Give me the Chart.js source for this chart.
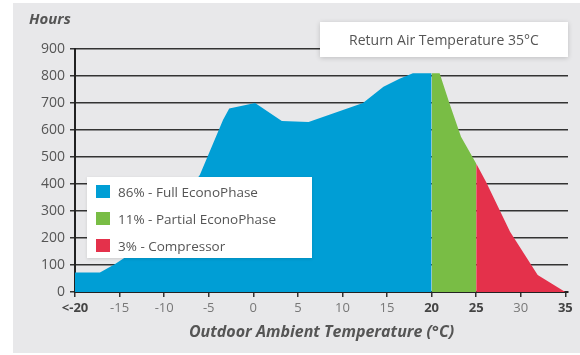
<!DOCTYPE html>
<html>
<head>
<meta charset="utf-8">
<script src="https://cdn.jsdelivr.net/npm/chart.js@4.4.1/dist/chart.umd.min.js"></script>
<style>
  body { margin: 0; background: #fff; font-family: 'Open Sans', sans-serif; }
  #panel { position: absolute; left: 13px; top: 3px; width: 567px; height: 350px; background: #e8e8ea; }
  #wrap { position: absolute; left: 0; top: 0; width: 580px; height: 355px; }
  #yTitle { position: absolute; left: 29px; top: 8px; font-size: 15px; font-weight: bold; font-style: italic; color: #555; }
  #note { position: absolute; left: 320px; top: 22px; width: 248px; height: 35px; line-height: 35px; text-align: center;
          background: #fff; box-shadow: 0 1px 5px rgba(0,0,0,0.18); font-size: 14px; color: #555; }
  #legend { position: absolute; left: 87px; top: 177px; width: 225px; height: 81px; background: #fff;
            box-shadow: 0 1px 3px rgba(0,0,0,0.12); box-sizing: border-box; padding-top: 1px; }
  .item { height: 27px; display: flex; align-items: center; padding-left: 9px; font-size: 13.5px; color: #555; }
  .sw { width: 14px; height: 13px; margin-right: 8px; }
</style>
</head>
<body>
<div id="panel"></div>
<div id="wrap"><canvas id="chart"></canvas></div>
<div id="yTitle">Hours</div>
<div id="note">Return Air Temperature 35°C</div>
<div id="legend"></div>
<script>
const seriesLabels = ['86% - Full EconoPhase', '11% - Partial EconoPhase', '3% - Compressor'];
const seriesColors = ['#009ed5', '#79bd45', '#e4314b'];

const fullTemps = [-20, -17.2, -15.5, -14.4, -10, -6, -3.4, -2.7, 0.2, 3.2, 6.2, 12.3, 14.6, 16.4, 17.9, 20];
const fullHours = [72, 72, 104, 128, 260, 433, 637, 680, 700, 633, 630, 700, 760, 790, 810, 810];
const partialTemps = [20, 20.9, 22.0, 23.3, 25];
const partialHours = [810, 810, 699, 575, 476];
const compTemps = [25, 26.1, 28.8, 31.9, 35];
const compHours = [476, 408, 223, 63, 0];

const xTicks = [-20, -15, -10, -5, 0, 5, 10, 15, 20, 25, 30, 35];
const boldTicks = [-20, 20, 25, 35];

const legendEl = document.getElementById('legend');
seriesLabels.forEach((label, i) => {
  const row = document.createElement('div');
  row.className = 'item';
  row.innerHTML = '<span class="sw" style="background:' + seriesColors[i] + '"></span>' + label;
  legendEl.appendChild(row);
});

function points(xs, ys) {
  return xs.map((x, i) => ({ x: x, y: ys[i] }));
}

function area(i, xs, ys) {
  return {
    label: seriesLabels[i],
    data: points(xs, ys),
    backgroundColor: seriesColors[i],
    borderWidth: 0,
    pointRadius: 0,
    fill: 'origin',
    tension: 0
  };
}

const isBold = c => !!(c && c.tick && boldTicks.includes(c.tick.value));

new Chart(document.getElementById('chart'), {
  type: 'line',
  data: {
    datasets: [
      area(0, fullTemps, fullHours),
      area(1, partialTemps, partialHours),
      area(2, compTemps, compHours)
    ]
  },
  options: {
    responsive: true,
    maintainAspectRatio: false,
    animation: false,
    devicePixelRatio: 1,
    layout: { padding: { top: 49, right: 12, left: 0, bottom: 0 } },
    plugins: { legend: { display: false }, tooltip: { enabled: false } },
    scales: {
      x: {
        type: 'linear',
        min: -20,
        max: 35.3,
        afterBuildTicks: s => { s.ticks = xTicks.map(v => ({ value: v })); },
        afterFit: s => { s.height = 63; },
        grid: { drawOnChartArea: false, drawTicks: true, tickLength: 5, color: '#333', lineWidth: 1.5 },
        border: { display: true, color: '#222', width: 2 },
        ticks: {
          padding: 3,
          maxRotation: 0,
          autoSkip: false,
          callback: v => v === -20 ? '<-20' : String(v),
          color: c => isBold(c) ? '#444' : '#777',
          font: c => ({ family: 'Open Sans', size: 13, weight: isBold(c) ? 'bold' : 'normal' })
        },
        title: {
          display: true,
          text: 'Outdoor Ambient Temperature (°C)',
          color: '#555',
          font: { family: 'Open Sans', size: 16, weight: 'bold', style: 'italic' },
          padding: { top: 0, bottom: 13 }
        }
      },
      y: {
        min: 0,
        max: 900,
        afterFit: s => { s.width = 75; },
        grid: { color: '#333', lineWidth: 1.5, tickLength: 5 },
        border: { display: true, color: '#222', width: 2 },
        ticks: {
          stepSize: 100,
          padding: 5,
          color: '#555',
          font: { family: 'Open Sans', size: 14 }
        }
      }
    }
  }
});
</script>
</body>
</html>
